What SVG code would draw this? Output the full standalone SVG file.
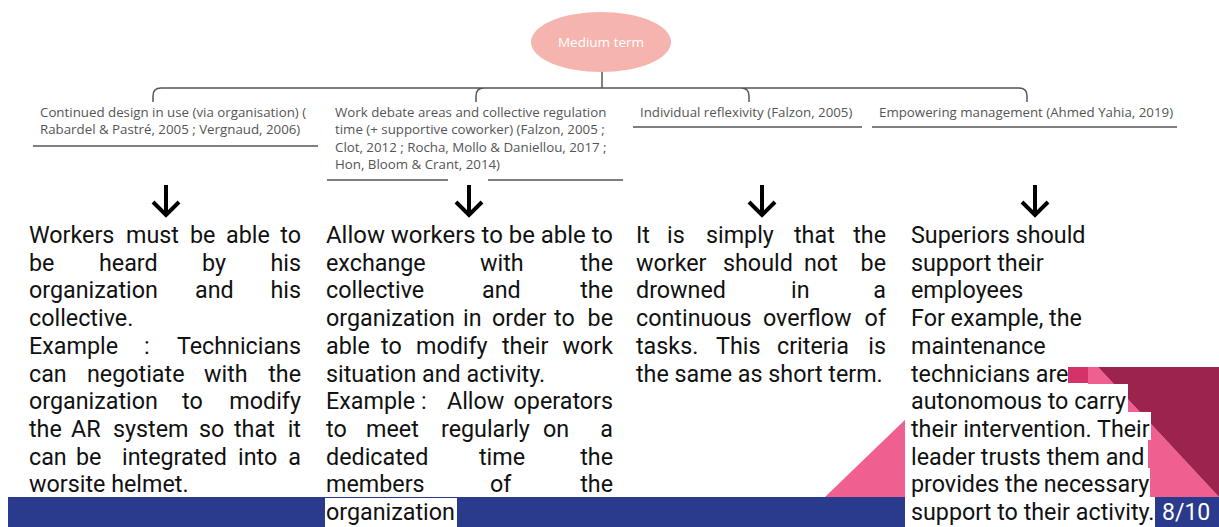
<svg xmlns="http://www.w3.org/2000/svg" width="1219" height="527" viewBox="0 0 1219 527">
<style>
.hdr{font-family:"Open Sans","DejaVu Sans",sans-serif;font-size:13.3px;fill:#555}
.body{font-family:Roboto,"Liberation Sans",sans-serif;font-size:23.3px;fill:#111}
.end{text-anchor:end}
.ul{stroke:#555;stroke-width:1.5;fill:none}
.conn{stroke:#555;stroke-width:1.5;fill:none}
.arr{stroke:#000;stroke-width:4;fill:none;stroke-linecap:butt}
</style>
<defs>
<g id="arrow"><path class="arr" d="M0,0 V31 M-13,17 L0,30 L13,17"/></g>
</defs>
<rect width="1219" height="527" fill="#fff"/>
<g id="decor">
<rect x="8" y="497" width="1211" height="30" fill="#2a3a8c"/>
<polygon points="825,497 910,415 910,497" fill="#ef5f8f"/>
<polygon points="1088,367 1098,367 1219,497 1088,497" fill="#ef5f8f"/>
<polygon points="1098,367 1219,367 1219,497" fill="#9c234e"/>
<rect x="1068" y="367" width="20" height="16" fill="#d4336a"/>
<rect x="325" y="498" width="132" height="29" fill="#fff"/>
<rect x="905" y="384" width="223" height="28" fill="#fff"/>
<rect x="905" y="412" width="246" height="28" fill="#fff"/>
<rect x="905" y="440" width="243" height="28" fill="#fff"/>
<rect x="905" y="468" width="245" height="29" fill="#fff"/>
<rect x="905" y="497" width="250" height="30" fill="#fff"/>
<text x="1162" y="520" style="font-family:Roboto,'Liberation Sans',sans-serif;font-size:23px;fill:#fff">8/10</text>
</g>
<g id="connectors">
<path class="conn" d="M602,72 V88 M161,88 H1019 M153,102 V96 Q153,88 161,88 M476,102 V96 Q476,88 484,88 M749,102 V96 Q749,88 741,88 M1027,102 V96 Q1027,88 1019,88"/>
<use href="#arrow" x="166" y="185"/>
<use href="#arrow" x="469" y="185"/>
<use href="#arrow" x="762" y="185"/>
<use href="#arrow" x="1035" y="185"/>
</g>
<g id="medium-term">
<ellipse cx="601" cy="42" rx="70" ry="30" fill="#f5b4ad"/>
<text x="601" y="47" text-anchor="middle" style="font-family:'Open Sans','DejaVu Sans',sans-serif;font-size:13.5px;fill:#fff">Medium term</text>
</g>
<g id="h1">
<text class="hdr" x="40" y="117">Continued design in use (via organisation) (</text>
<text class="hdr" x="40" y="134">Rabardel &amp; Pastré, 2005 ; Vergnaud, 2006)</text>
<path class="ul" d="M33,146 H318"/>
</g>
<g id="h2">
<text class="hdr" x="335" y="117">Work debate areas and collective regulation</text>
<text class="hdr" x="335" y="134">time (+ supportive coworker) (Falzon, 2005 ;</text>
<text class="hdr" x="335" y="152">Clot, 2012 ; Rocha, Mollo &amp; Daniellou, 2017 ;</text>
<text class="hdr" x="335" y="169">Hon, Bloom &amp; Crant, 2014)</text>
<path class="ul" d="M327,180 H448 M488,180 H623"/>
</g>
<g id="h3">
<text class="hdr" x="640" y="117">Individual reflexivity (Falzon, 2005)</text>
<path class="ul" d="M633,127 H862"/>
</g>
<g id="h4">
<text class="hdr" x="879" y="117">Empowering management (Ahmed Yahia, 2019)</text>
<path class="ul" d="M872,127 H1177"/>
</g>
<g id="c1" class="body">
<text y="243"><tspan x="29">Workers</tspan><tspan x="126">must</tspan><tspan x="190">be</tspan><tspan x="226">able</tspan></text><text class="end" x="301" y="243">to</text>
<text y="270.7"><tspan x="29">be</tspan><tspan x="99">heard</tspan><tspan x="202">by</tspan></text><text class="end" x="301" y="270.7">his</text>
<text y="298.4"><tspan x="29">organization</tspan><tspan x="195">and</tspan></text><text class="end" x="301" y="298.4">his</text>
<text x="29" y="326.1">collective.</text>
<text y="353.8"><tspan x="29">Example</tspan><tspan x="144">:</tspan></text><text class="end" x="301" y="353.8">Technicians</text>
<text y="381.5"><tspan x="29">can</tspan><tspan x="87">negotiate</tspan><tspan x="204">with</tspan></text><text class="end" x="301" y="381.5">the</text>
<text y="409.2"><tspan x="29">organization</tspan><tspan x="182">to</tspan></text><text class="end" x="301" y="409.2">modify</text>
<text y="436.9"><tspan x="29">the</tspan><tspan x="71">AR</tspan><tspan x="113">system</tspan><tspan x="199">so</tspan><tspan x="234">that</tspan></text><text class="end" x="301" y="436.9">it</text>
<text y="464.6"><tspan x="29">can</tspan><tspan x="76">be</tspan><tspan x="122">integrated</tspan><tspan x="238">into</tspan></text><text class="end" x="301" y="464.6">a</text>
<text x="29" y="492.3">worsite helmet.</text>
</g>
<g id="c2" class="body">
<text x="326" y="243" textLength="287" lengthAdjust="spacingAndGlyphs">Allow workers to be able to</text>
<text y="270.7"><tspan x="326">exchange</tspan><tspan x="480">with</tspan></text><text class="end" x="613" y="270.7">the</text>
<text y="298.4"><tspan x="326">collective</tspan><tspan x="482">and</tspan></text><text class="end" x="613" y="298.4">the</text>
<text y="326.1"><tspan x="326">organization</tspan><tspan x="463">in</tspan><tspan x="492">order</tspan><tspan x="554">to</tspan></text><text class="end" x="613" y="326.1">be</text>
<text y="353.8"><tspan x="326">able</tspan><tspan x="381">to</tspan><tspan x="416">modify</tspan><tspan x="502">their</tspan></text><text class="end" x="613" y="353.8">work</text>
<text x="326" y="381.5">situation and activity.</text>
<text y="409.2"><tspan x="326">Example</tspan><tspan x="421">:</tspan><tspan x="447">Allow</tspan></text><text class="end" x="613" y="409.2">operators</text>
<text y="436.9"><tspan x="326">to</tspan><tspan x="366">meet</tspan><tspan x="441">regularly</tspan><tspan x="543">on</tspan></text><text class="end" x="613" y="436.9">a</text>
<text y="464.6"><tspan x="326">dedicated</tspan><tspan x="479">time</tspan></text><text class="end" x="613" y="464.6">the</text>
<text y="492.3"><tspan x="326">members</tspan><tspan x="490">of</tspan></text><text class="end" x="613" y="492.3">the</text>
<text x="326" y="520">organization</text>
</g>
<g id="c3" class="body">
<text y="243"><tspan x="636">It</tspan><tspan x="667">is</tspan><tspan x="706">simply</tspan><tspan x="794">that</tspan></text><text class="end" x="886" y="243">the</text>
<text y="270.7"><tspan x="636">worker</tspan><tspan x="723">should</tspan><tspan x="804">not</tspan></text><text class="end" x="886" y="270.7">be</text>
<text y="298.4"><tspan x="636">drowned</tspan><tspan x="791">in</tspan></text><text class="end" x="886" y="298.4">a</text>
<text y="326.1"><tspan x="636">continuous</tspan><tspan x="763">overflow</tspan></text><text class="end" x="886" y="326.1">of</text>
<text y="353.8"><tspan x="636">tasks.</tspan><tspan x="716">This</tspan><tspan x="777">criteria</tspan></text><text class="end" x="886" y="353.8">is</text>
<text x="636" y="381.5">the same as short term.</text>
</g>
<g id="c4" class="body">
<text x="911" y="243">Superiors should</text>
<text x="911" y="270.7">support their</text>
<text x="911" y="298.4">employees</text>
<text x="911" y="326.1">For example, the</text>
<text x="911" y="353.8">maintenance</text>
<text x="911" y="381.5">technicians are</text>
<text x="911" y="409.2">autonomous to carry</text>
<text x="911" y="436.9">their intervention. Their</text>
<text x="911" y="464.6">leader trusts them and</text>
<text x="911" y="492.3">provides the necessary</text>
<text x="911" y="520">support to their activity.</text>
</g>
</svg>
